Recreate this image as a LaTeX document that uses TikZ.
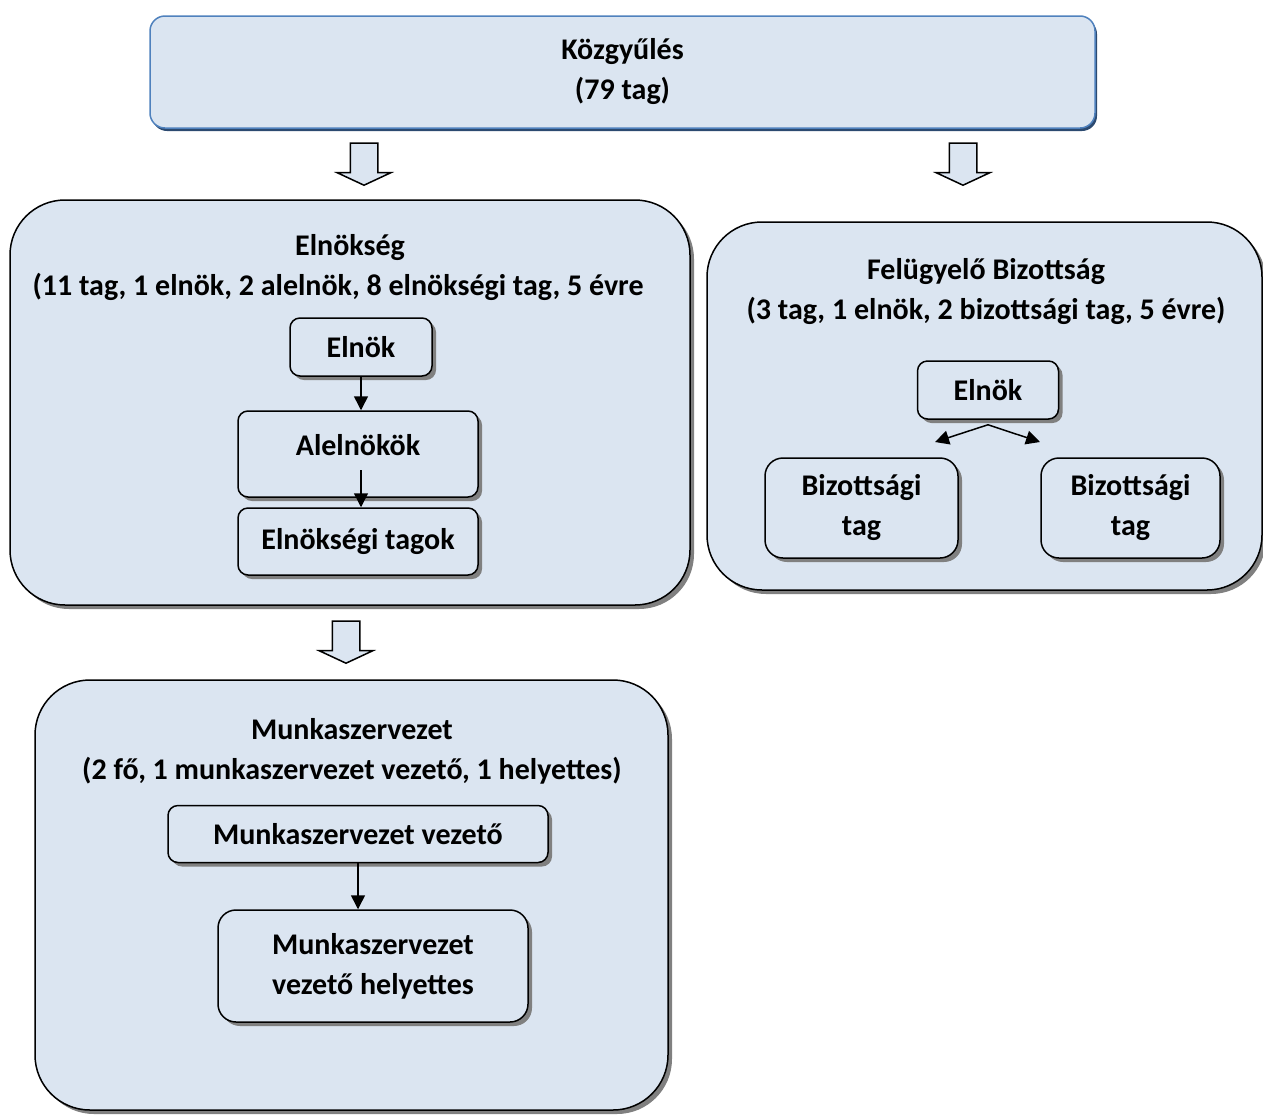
\documentclass[tikz,border=0pt]{standalone}
\usepackage{fontspec}
\setmainfont{Carlito}
\usetikzlibrary{shapes.arrows,shadows,arrows.meta}

\definecolor{boxfill}{RGB}{219,229,241}
\definecolor{topline}{RGB}{79,129,189}
\definecolor{topshade}{RGB}{44,74,112}

\tikzset{
	grayshadow/.style={drop shadow={shadow xshift=4pt, shadow yshift=-4pt, fill=black!50, opacity=1}},
	big/.style={draw, line width=1.5pt, fill=boxfill, rounded corners=55pt, inner sep=0pt, grayshadow},
	small/.style={draw, line width=1.5pt, fill=boxfill, rounded corners=10pt, inner sep=0pt, align=center, grayshadow},
	ttl/.style={align=center},
	topbox/.style={draw=topline, line width=1.5pt, fill=boxfill, rounded corners=15pt, align=center,
		drop shadow={shadow xshift=2pt, shadow yshift=-3pt, fill=topshade, opacity=1}},
	blockarr/.style={single arrow, rotate=-90, draw, line width=1.5pt, fill=boxfill, minimum height=42pt,
		inner xsep=0pt, inner ysep=13pt, single arrow head extend=13pt, single arrow tip angle=130},
	conn/.style={-{Triangle[length=14pt,width=14pt]}, line width=1.5pt}
}

\begin{document}
\begin{tikzpicture}[x=1pt, y=-1pt, font=\bfseries\fontsize{30}{40}\selectfont]
	\useasboundingbox (0,0) rectangle (1263,1117);

	\node[topbox, minimum width=945pt, minimum height=112pt] (kozgy) at (622.5,72) {Közgyűlés\\(79 tag)};
	\node[blockarr] (ba1) at (364,161) {};
	\node[blockarr] (ba2) at (963,161) {};

	% Elnokseg
	\node[big, minimum width=680pt, minimum height=405pt] (eln) at (350,402.5) {};
	\node[ttl] (elnT) at (350,268) {Elnökség\\(11 tag, 1 elnök, 2 alelnök, 8 elnökségi tag, 5 évre\hspace*{24pt}};
	\node[small, minimum width=142pt, minimum height=58pt] (elnok) at (361,347) {Elnök};
	\node[small, minimum width=240pt, minimum height=86pt, text depth=18pt] (alelnok) at (358,454) {Alelnökök};
	\node[small, minimum width=240pt, minimum height=67pt] (tagok) at (358,541.5) {Elnökségi tagok};
	\coordinate (alin) at (361,470);
	\draw[conn] (elnok.south) -- (elnok.south |- alelnok.north);
	\draw[conn] (alin) -- (alin |- tagok.north);

	% Felugyelo Bizottsag
	\node[big, minimum width=555pt, minimum height=368pt] (fb) at (984.5,406) {};
	\node[ttl] (fbT) at (986,292) {Felügyelő Bizottság\\(3 tag, 1 elnök, 2 bizottsági tag, 5 évre)};
	\node[small, minimum width=141pt, minimum height=58pt] (fbelnok) at (988,390) {Elnök};
	\node[small, rounded corners=18pt, minimum width=193pt, minimum height=100pt] (biz1) at (861.5,508) {Bizottsági\\tag};
	\node[small, rounded corners=18pt, minimum width=179pt, minimum height=100pt] (biz2) at (1130.5,508) {Bizottsági\\tag};
	\coordinate (fbtop) at ([yshift=-5pt]fbelnok.south);
	\coordinate (fbL) at (935,442);
	\coordinate (fbR) at (1040,442);
	\draw[conn] (fbtop) -- (fbL);
	\draw[conn] (fbtop) -- (fbR);

	\node[blockarr] (ba3) at (346,639) {};

	% Munkaszervezet
	\node[big, minimum width=633pt, minimum height=430pt] (msz) at (351.5,895) {};
	\node[ttl] (mszT) at (352,751) {Munkaszervezet\\(2 fő, 1 munkaszervezet vezető, 1 helyettes)};
	\node[small, minimum width=380pt, minimum height=57pt] (mv) at (358,834) {Munkaszervezet vezető};
	\node[small, rounded corners=18pt, minimum width=310pt, minimum height=112pt] (mvh) at (373,966) {Munkaszervezet\\vezető helyettes};
	\draw[conn] (mv.south) -- (mv.south |- mvh.north);
\end{tikzpicture}
\end{document}
